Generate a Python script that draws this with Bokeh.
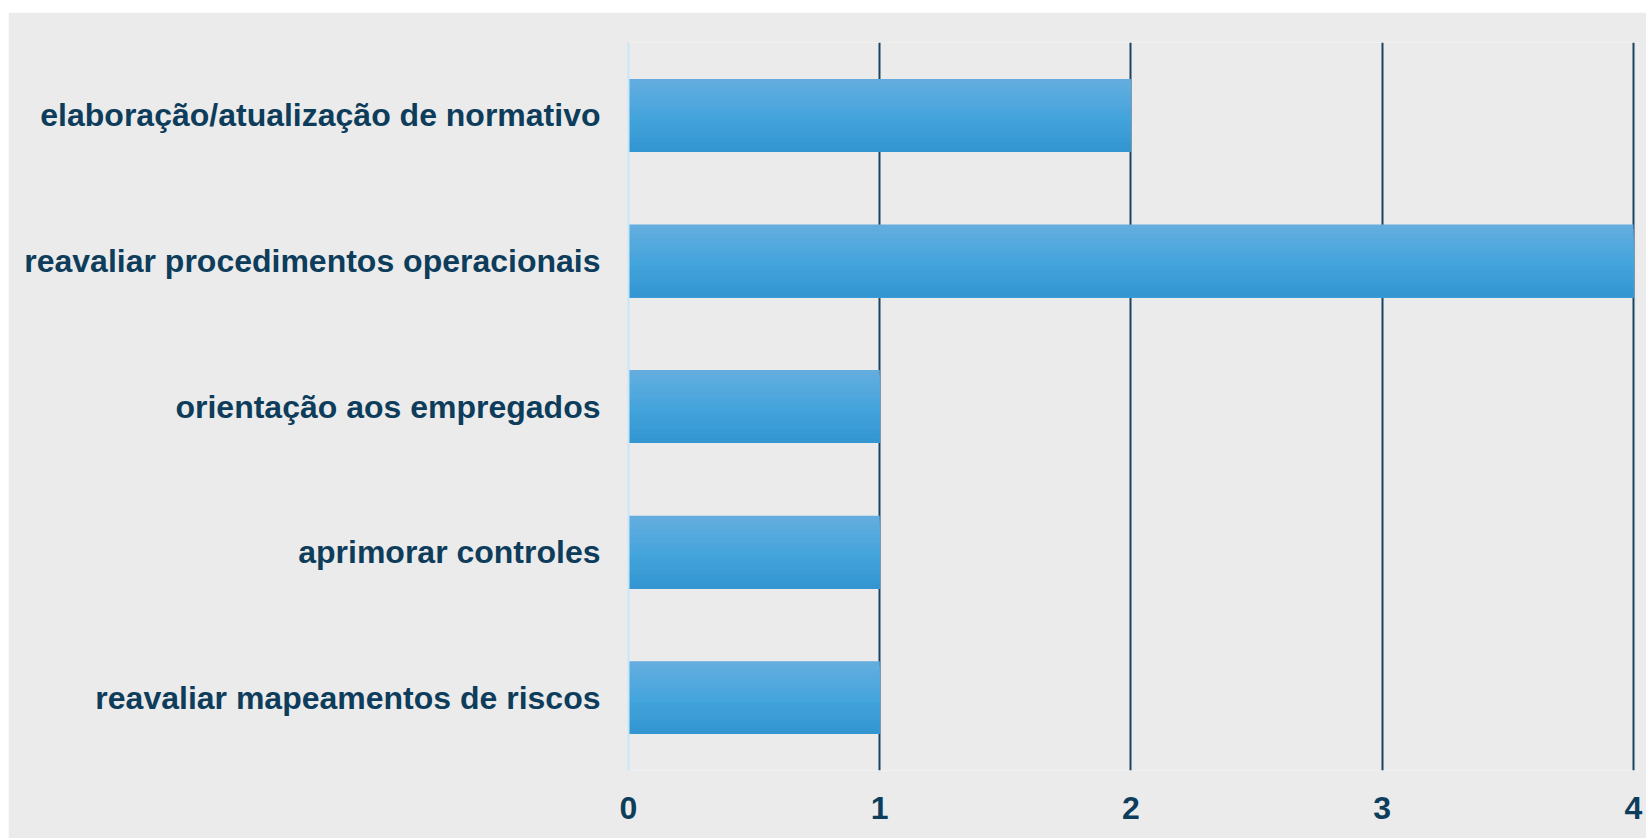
from bokeh.plotting import figure
from bokeh.models import FactorRange, Range1d, FixedTicker, Spacer, ColumnDataSource
from bokeh.layouts import column, row
from bokeh.transform import dodge
from bokeh.embed import file_html
from bokeh.resources import INLINE

categories = [
    "elaboração/atualização de normativo",
    "reavaliar procedimentos operacionais",
    "orientação aos empregados",
    "aprimorar controles",
    "reavaliar mapeamentos de riscos",
]
values = [2, 4, 1, 1, 1]
x_ticks = [0, 1, 2, 3, 4]

TEXT = "#0e3d5c"
GRID = "#1b4462"
BG = "#ebebeb"

src = ColumnDataSource(dict(cat=categories, val=values))

p = figure(
    width=1638, height=826,
    y_range=FactorRange(*reversed(categories)),
    x_range=Range1d(0, 4.02),
    output_backend="svg", toolbar_location=None,
    min_border_left=620, min_border_right=8, min_border_top=30, min_border_bottom=68,
)
p.background_fill_color = BG
p.border_fill_color = BG
p.outline_line_color = None

# gradient bars: stacked strips anchored at bar bottom, light top -> darker bottom
stops = [(0.0, (99, 173, 222)), (0.55, (67, 164, 220)), (1.0, (52, 150, 209))]
def col_at(t):
    for (t0, c0), (t1, c1) in zip(stops[:-1], stops[1:]):
        if t <= t1:
            f = (t - t0) / (t1 - t0)
            return "#%02x%02x%02x" % tuple(round(a + (b - a) * f) for a, b in zip(c0, c1))
    return "#%02x%02x%02x" % stops[-1][1]

N = 16
full_h = 0.5
bottom = -full_h / 2
for i in range(N):
    h = full_h * (N - i) / N
    center = bottom + h / 2
    p.hbar(y=dodge("cat", center, range=p.y_range), right="val", left=0, height=h,
           source=src, fill_color=col_at(i / (N - 1)), line_color=None)

p.xaxis.ticker = FixedTicker(ticks=x_ticks)
p.xgrid.ticker = FixedTicker(ticks=x_ticks[1:])
p.xgrid.grid_line_color = GRID
p.xgrid.grid_line_width = 2
p.ygrid.grid_line_color = None

for ax in (p.xaxis, p.yaxis):
    ax.major_tick_line_color = None
    ax.minor_tick_line_color = None
    ax.major_label_text_font = "Liberation Sans"
    ax.major_label_text_font_style = "bold"
    ax.major_label_text_font_size = "32px"
    ax.major_label_text_color = TEXT
    ax.major_tick_in = 0
    ax.major_tick_out = 0

p.xaxis.axis_line_color = None
p.xaxis.major_label_standoff = 26
p.yaxis.axis_line_color = "#c8e6f8"
p.yaxis.axis_line_width = 2
p.yaxis.major_label_standoff = 28

layout = column(Spacer(height=12), row(Spacer(width=8), p))
open("out.html", "w").write(file_html(layout, INLINE))
